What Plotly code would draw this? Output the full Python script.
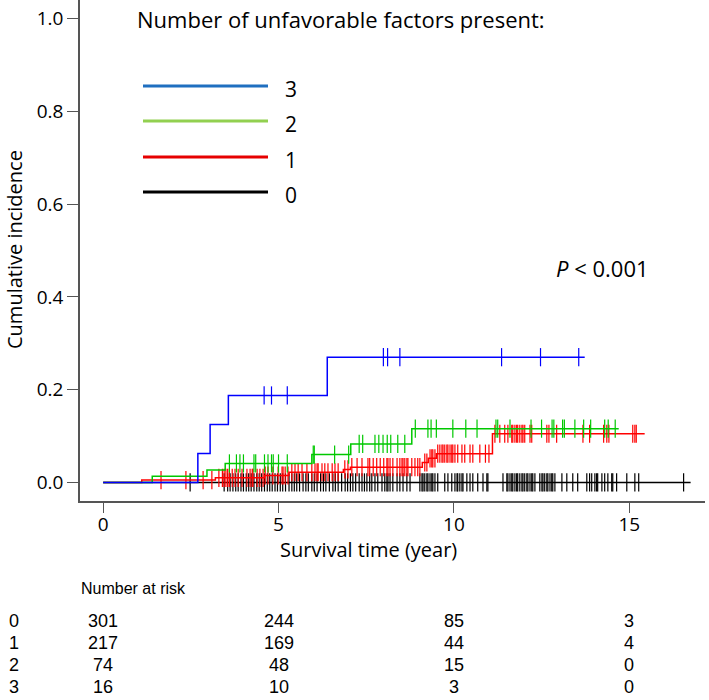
import numpy as np
import plotly.graph_objects as go

# ---------------- data ----------------
groups = ["0", "1", "2", "3"]
curve_colors = {"0": "#000000", "1": "#FF0000", "2": "#00C800", "3": "#0000FF"}
legend_colors = {"3": "#1F6FC0", "2": "#92D050", "1": "#E60000", "0": "#000000"}

# event (step) times and cumulative incidence after each step
events_t = {
    "0": [],
    "1": [1.1, 3.2, 4.6, 5.3, 6.85, 7.05, 9.1, 9.27, 9.5, 11.1],
    "2": [1.4, 2.96, 3.48, 5.95, 7.06, 8.8],
    "3": [2.7, 3.05, 3.57, 6.39],
}
events_v = {
    "0": [],
    "1": [0.005, 0.010, 0.015, 0.022, 0.028, 0.033, 0.043, 0.052, 0.062, 0.105],
    "2": [0.0135, 0.027, 0.041, 0.060, 0.083, 0.116],
    "3": [0.0625, 0.125, 0.1875, 0.270],
}
end_t = {"0": 16.75, "1": 15.44, "2": 14.7, "3": 13.73}

censor_t = {
    "0": [2.48, 3.45, 3.55, 3.62, 3.7, 3.78, 3.85, 3.93, 4.0, 4.08, 4.15, 4.22, 4.3, 4.38,
          4.45, 4.52, 4.6, 4.68, 4.75, 4.82, 4.9, 4.97, 5.05, 5.12, 5.2, 5.3, 5.38, 5.45,
          5.52, 5.6, 5.7, 5.78, 5.85, 5.95, 6.02, 6.1, 6.2, 6.28, 6.35, 6.45, 6.55, 6.62,
          6.7, 6.8, 6.9, 6.97, 7.05, 7.12, 7.2, 7.3, 7.38, 7.45, 7.52, 7.6, 7.66, 7.75,
          7.83, 7.95, 8.03, 8.09, 8.12, 8.18, 8.26, 8.38, 8.46, 8.55, 8.66, 8.75, 9.03,
          9.09, 9.12, 9.17, 9.23, 9.26, 9.32, 9.37, 9.4, 9.46, 9.54, 9.74, 9.83, 9.94,
          10.03, 10.09, 10.11, 10.17, 10.23, 10.26, 10.37, 10.46, 10.54, 10.68, 10.83,
          10.94, 10.97, 11.4, 11.51, 11.54, 11.6, 11.65, 11.68, 11.74, 11.79, 11.82,
          11.88, 11.94, 11.97, 12.02, 12.08, 12.11, 12.17, 12.22, 12.25, 12.31, 12.45,
          12.51, 12.54, 12.59, 12.65, 12.68, 12.74, 12.79, 12.82, 12.88, 13.08, 13.22,
          13.39, 13.53, 13.79, 13.87, 13.93, 14.02, 14.07, 14.1, 14.22, 14.3, 14.39,
          14.5, 14.53, 14.64, 14.93, 15.16, 15.27, 16.55],
    "1": [1.65, 2.36, 2.85, 3.1, 3.3, 3.4, 3.45, 3.5, 3.55, 3.6, 3.68, 3.76, 3.85, 3.96,
          4.1, 4.19, 4.25, 4.27, 4.39, 4.47, 4.56, 4.62, 4.7, 4.84, 4.99, 5.1, 5.13, 5.19,
          5.27, 5.38, 5.47, 5.56, 5.67, 5.81, 5.95, 6.04, 6.1, 6.13, 6.24, 6.32, 6.41,
          6.53, 6.61, 6.7, 6.89, 6.98, 7.09, 7.24, 7.38, 7.55, 7.6, 7.7, 7.8, 7.9, 8.0,
          8.09, 8.12, 8.18, 8.26, 8.38, 8.46, 8.52, 8.55, 8.6, 8.66, 8.69, 8.8, 8.89,
          8.97, 9.03, 9.17, 9.23, 9.32, 9.37, 9.4, 9.46, 9.54, 9.6, 9.66, 9.69, 9.74,
          9.8, 9.83, 9.89, 9.94, 9.97, 10.03, 10.11, 10.23, 10.31, 10.46, 10.54, 10.74,
          10.9, 11.0, 11.17, 11.31, 11.45, 11.54, 11.65, 11.68, 11.74, 11.79, 11.82,
          11.88, 11.94, 11.97, 12.02, 12.17, 12.22, 12.65, 12.71, 12.93, 13.68, 13.87,
          14.27, 14.36, 14.42, 15.1, 15.16, 15.2],
    "2": [3.6, 3.8, 3.9, 4.0, 4.3, 4.35, 4.6, 4.7, 4.8, 4.85, 5.0, 5.25, 5.99, 6.02, 6.6,
          7.0, 7.3, 7.4, 7.75, 7.86, 7.98, 8.1, 8.2, 8.4, 8.6, 8.9, 9.26, 9.35, 9.5, 9.97,
          10.34, 10.66, 11.2, 11.25, 11.6, 12.2, 12.5, 12.8, 12.85, 13.1, 13.15, 13.45,
          13.7, 13.9, 14.3, 14.4, 14.6],
    "3": [4.59, 4.8, 5.25, 7.99, 8.11, 8.46, 11.36, 12.47, 13.56],
}

risk_times = [0, 5, 10, 15]
risk_counts = {
    "0": [301, 244, 85, 3],
    "1": [217, 169, 44, 4],
    "2": [74, 48, 15, 0],
    "3": [16, 10, 3, 0],
}
legend_order = ["3", "2", "1", "0"]
legend_title = "Number of unfavorable factors present:"
p_text = "<i>P</i> < 0.001"
x_ticks = [0, 5, 10, 15]
y_ticks = [0.0, 0.2, 0.4, 0.6, 0.8, 1.0]

# ---------------- figure ----------------
W, H = 709, 700
ML, MR, MT, MB = 80, 4, 0, 199
XR = [-0.66, 17.16]
YR = [-0.04, 1.04]
fig = go.Figure()


def step_value(g, t):
    et = np.array(events_t[g], dtype=float)
    ev = np.array(events_v[g], dtype=float)
    idx = np.searchsorted(et, t, side="right")
    vals = np.concatenate([[0.0], ev])
    return vals[idx]


for g in groups:
    xs = [0.0] + list(events_t[g]) + [end_t[g]]
    ys = [0.0] + list(events_v[g]) + [events_v[g][-1] if events_v[g] else 0.0]
    fig.add_trace(go.Scatter(x=xs, y=ys, mode="lines", line=dict(color=curve_colors[g], width=1.5, shape="hv"),
                             showlegend=False, hoverinfo="skip"))
    ct = np.array(censor_t[g], dtype=float)
    fig.add_trace(go.Scatter(x=ct, y=step_value(g, ct), mode="markers",
                             marker=dict(symbol="line-ns", size=13, line=dict(color=curve_colors[g], width=1.2)),
                             showlegend=False, hoverinfo="skip"))

sego = "'Open Sans', 'Noto Sans', sans-serif"
arial = "'Liberation Sans', Arial, sans-serif"
leg_y_px = [86, 121, 157, 192]


def px2paper_y(py):
    return (H - MB - py) / (H - MT - MB)


def px2paper_x(px):
    return (px - ML) / (W - ML - MR)


# legend drawn manually
for g, py in zip(legend_order, leg_y_px):
    fig.add_shape(type="line", xref="paper", yref="paper",
                  x0=px2paper_x(143), x1=px2paper_x(268), y0=px2paper_y(py), y1=px2paper_y(py),
                  line=dict(color=legend_colors[g], width=3))
    fig.add_annotation(xref="paper", yref="paper", x=px2paper_x(283), y=px2paper_y(py + 3),
                       text=g, showarrow=False, xanchor="left", yanchor="middle",
                       font=dict(family=sego, size=21, color="#000"))

fig.add_annotation(xref="paper", yref="paper", x=px2paper_x(135), y=px2paper_y(19),
                   text=legend_title, showarrow=False, xanchor="left", yanchor="middle",
                   font=dict(family=sego, size=22, color="#000"))
fig.add_annotation(xref="paper", yref="paper", x=px2paper_x(554), y=px2paper_y(268),
                   text=p_text, showarrow=False, xanchor="left", yanchor="middle",
                   font=dict(family=sego, size=22, color="#000"))

# axis titles
fig.add_annotation(xref="paper", yref="paper", x=px2paper_x(368), y=px2paper_y(549),
                   text="Survival time (year)", showarrow=False, xanchor="center", yanchor="middle",
                   font=dict(family=sego, size=20, color="#000"))
fig.add_annotation(xref="paper", yref="paper", x=px2paper_x(14), y=px2paper_y(250),
                   text="Cumulative incidence", showarrow=False, xanchor="center", yanchor="middle",
                   textangle=-90, font=dict(family=sego, size=20, color="#000"))

# number at risk table
fig.add_annotation(xref="paper", yref="paper", x=px2paper_x(79), y=px2paper_y(588),
                   text="Number at risk", showarrow=False, xanchor="left", yanchor="middle",
                   font=dict(family=arial, size=16, color="#000"))
row_y_px = [621, 643, 665, 687]
for g, py in zip(groups, row_y_px):
    fig.add_annotation(xref="paper", yref="paper", x=px2paper_x(14), y=px2paper_y(py),
                       text=g, showarrow=False, xanchor="center", yanchor="middle",
                       font=dict(family=arial, size=18, color="#000"))
    for t, n in zip(risk_times, risk_counts[g]):
        fig.add_annotation(xref="x", yref="paper", x=t, y=px2paper_y(py),
                           text=str(n), showarrow=False, xanchor="center", yanchor="middle",
                           font=dict(family=arial, size=18, color="#000"))

fig.update_layout(
    width=W, height=H, margin=dict(l=ML, r=MR, t=MT, b=MB),
    paper_bgcolor="white", plot_bgcolor="white",
    xaxis=dict(range=XR, tickvals=x_ticks, ticktext=[str(v) for v in x_ticks],
               showgrid=False, zeroline=False, showline=True, linecolor="#555", linewidth=1.5,
               ticks="outside", ticklen=10, tickwidth=1.3, tickcolor="#555", ticklabelstandoff=-5,
               tickfont=dict(family=sego, size=19, color="#000")),
    yaxis=dict(range=YR, tickvals=y_ticks, ticktext=[f"{v:.1f}" for v in y_ticks],
               showgrid=False, zeroline=False, showline=True, linecolor="#555", linewidth=1.5,
               ticks="outside", ticklen=11, tickwidth=1.3, tickcolor="#555",
               tickfont=dict(family=sego, size=19, color="#000")),
)

fig.write_html("out.html", config={"displayModeBar": False},
               post_script="document.body.style.margin='0px';")
